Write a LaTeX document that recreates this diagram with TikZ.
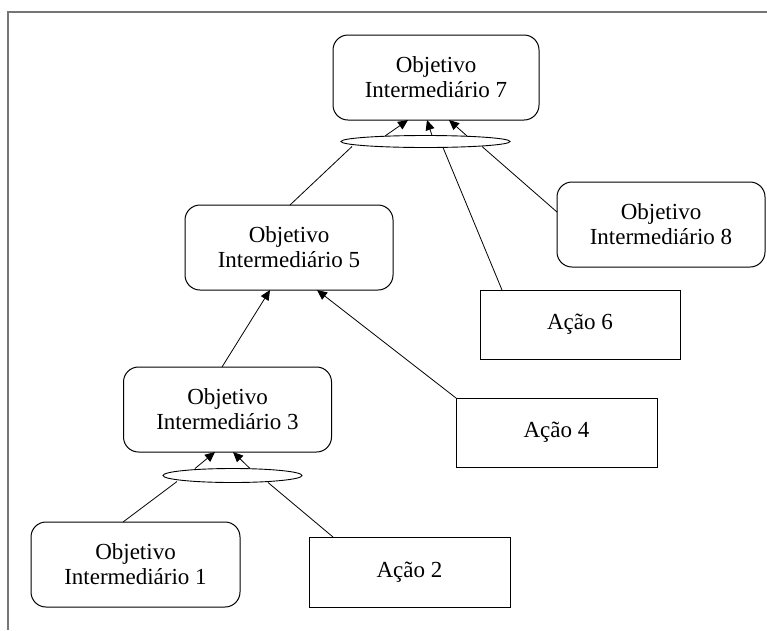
\documentclass[tikz,border=0pt]{standalone}
\usepackage{fontspec}
\setmainfont{Liberation Serif}
\usetikzlibrary{arrows.meta,shapes.geometric}

\definecolor{framegray}{HTML}{767676}

\tikzset{
  txt/.style={font=\fontsize{23}{25}\selectfont, align=center, inner sep=0pt},
  goal/.style={txt, draw, line width=1pt, rounded corners=15pt},
  action/.style={txt, draw, line width=1pt},
  andnode/.style={draw, ellipse, line width=0.9pt, inner sep=0pt, fill=white},
  link/.style={line width=0.8pt},
  arrowlink/.style={line width=0.8pt, -{Triangle[length=10pt,width=9pt]}}
}

\begin{document}
\begin{tikzpicture}[x=1pt, y=-1pt]
\useasboundingbox (0,0) rectangle (767,630);

% page frame
\draw[framegray, line width=2pt] (8,630) -- (8,12) -- (767,12);

% goals and actions
\node[goal, minimum width=206pt, minimum height=85pt] (o7) at (436,77.5) {Objetivo\\Intermediário 7};
\node[goal, minimum width=208pt, minimum height=85pt] (o5) at (289,247.5) {Objetivo\\Intermediário 5};
\node[goal, minimum width=208pt, minimum height=85pt] (o8) at (661,224.5) {Objetivo\\Intermediário 8};
\node[action, minimum width=200pt, minimum height=69pt] (a6) at (580,324.5) {Ação 6};
\node[action, minimum width=201pt, minimum height=69pt] (a4) at (556.5,432.5) {Ação 4};
\node[goal, minimum width=208pt, minimum height=85pt] (o3) at (227.5,409.5) {Objetivo\\Intermediário 3};
\node[goal, minimum width=209pt, minimum height=85pt] (o1) at (135.5,564.5) {Objetivo\\Intermediário 1};
\node[action, minimum width=201pt, minimum height=70pt] (a2) at (409.5,572) {Ação 2};

% AND connectors
\node[andnode, minimum width=169pt, minimum height=12pt] (e7) at (425.5,141.5) {};
\node[andnode, minimum width=139pt, minimum height=14pt] (e3) at (232.5,475.5) {};

% attachment points
\coordinate (e7t1) at (385,136);
\coordinate (e7t2) at (432,135.5);
\coordinate (e7t3) at (467,136);
\coordinate (o7b1) at (408,120);
\coordinate (o7b2) at (427,120);
\coordinate (o7b3) at (449,120);
\coordinate (e7b1) at (352,146.5);
\coordinate (e7b2) at (443,147.5);
\coordinate (e7b3) at (482,146.5);
\coordinate (o5t) at (290,205);
\coordinate (a6t) at (502,290);
\coordinate (o8l) at (557,212);
\coordinate (o3t) at (222,367);
\coordinate (a4c) at (456,398);
\coordinate (o5b1) at (270,290);
\coordinate (o5b2) at (317,290);
\coordinate (e3t1) at (195,468.5);
\coordinate (e3t2) at (250,468.5);
\coordinate (o3b1) at (215,452);
\coordinate (o3b2) at (233,452);
\coordinate (e3b1) at (177,481.5);
\coordinate (e3b2) at (268,482.5);
\coordinate (o1t) at (123,522);
\coordinate (a2t) at (333,537);

% into goal 7
\draw[arrowlink] (e7t1) -- (o7b1);
\draw[arrowlink] (e7t2) -- (o7b2);
\draw[arrowlink] (e7t3) -- (o7b3);
\draw[link] (o5t) -- (e7b1);
\draw[link] (a6t) -- (e7b2);
\draw[link] (o8l) -- (e7b3);

% into goal 5
\draw[arrowlink] (o3t) -- (o5b1);
\draw[arrowlink] (a4c) -- (o5b2);

% into goal 3
\draw[arrowlink] (e3t1) -- (o3b1);
\draw[arrowlink] (e3t2) -- (o3b2);
\draw[link] (o1t) -- (e3b1);
\draw[link] (a2t) -- (e3b2);
\end{tikzpicture}
\end{document}
